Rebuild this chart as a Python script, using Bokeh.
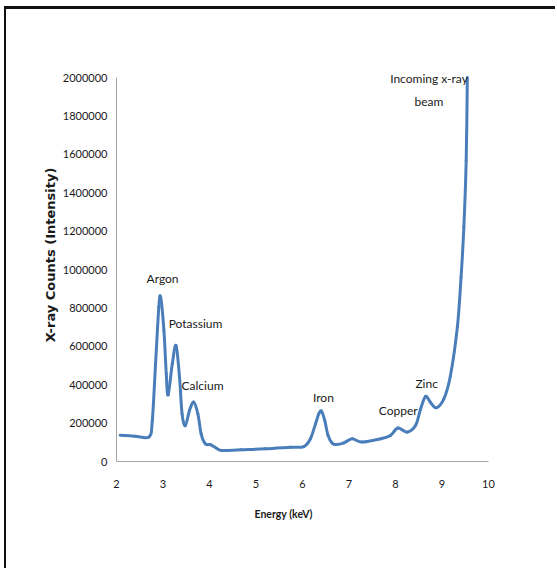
import numpy as np
from bokeh.plotting import figure
from bokeh.models import Range1d, FixedTicker, LabelSet, Title, ColumnDataSource
from bokeh.core.properties import value
from bokeh.embed import file_html
from bokeh.resources import INLINE

# ---- data ----
energy_kev = [2.08, 2.40, 2.70, 2.77, 2.84, 2.91, 2.95, 3.02, 3.07, 3.11, 3.20, 3.28,
              3.355, 3.41, 3.48, 3.57, 3.66, 3.75, 3.82, 3.91, 4.02, 4.15, 4.27, 4.67,
              5.20, 5.74, 6.03, 6.17, 6.28, 6.35, 6.41, 6.48, 6.55, 6.64, 6.73, 6.89,
              7.07, 7.28, 7.68, 7.89, 8.05, 8.25, 8.43, 8.54, 8.645, 8.75, 8.875, 9.04,
              9.18, 9.33, 9.41, 9.47, 9.52, 9.545]
xray_counts = [137000, 132000, 128000, 213000, 509000, 804000, 855000, 682000, 457000,
               347000, 509000, 604000, 439000, 248000, 187000, 266000, 309000, 248000,
               144000, 92000, 88000, 69000, 57000, 61000, 66000, 74000, 78000, 118000,
               196000, 248000, 262000, 213000, 135000, 95000, 88000, 97000, 118000,
               101000, 118000, 135000, 174000, 153000, 187000, 274000, 339000, 309000,
               280000, 326000, 445000, 700000, 960000, 1220000, 1568000, 2000000]

x_ticks = [2, 3, 4, 5, 6, 7, 8, 9, 10]
x_tick_labels = ["2", "3", "4", "5", "6", "7", "8", "9", "10"]
y_ticks = [0, 200000, 400000, 600000, 800000, 1000000, 1200000, 1400000, 1600000,
           1800000, 2000000]
y_tick_labels = ["0", "200000", "400000", "600000", "800000", "1000000", "1200000",
                 "1400000", "1600000", "1800000", "2000000"]

peak_names = ["Argon", "Potassium", "Calcium", "Iron", "Copper", "Zinc",
              "Incoming x-ray", "beam"]
peak_label_x = [2.99, 3.70, 3.85, 6.45, 8.06, 8.67, 8.72, 8.72]
peak_label_y = [953000, 719000, 396000, 333000, 266000, 406000, 1995000, 1875000]

x_title = "Energy (keV)"
y_title = "X-ray Counts (Intensity)"

# ---- layout ----
W, H = 551, 562
FRAME_W, FRAME_H, AXIS_H = 372, 413, 384
Y_MAX = 2000000
Y_END = Y_MAX * FRAME_H / AXIS_H      # headroom so the top label is not clipped

p = figure(width=W, height=H, x_range=Range1d(2, 10), y_range=Range1d(0, Y_END),
           output_backend="svg", toolbar_location=None,
           min_border_left=110, min_border_right=W - 110 - FRAME_W,
           min_border_top=39, min_border_bottom=H - 39 - FRAME_H)
p.styles = {"border-top": "3px solid #111111", "border-left": "2px solid #111111",
            "margin-left": "4px", "margin-top": "6px"}
p.grid.visible = False
p.outline_line_color = None
p.background_fill_color = "white"
p.border_fill_color = "white"

# smoothed line (Catmull-Rom bezier segments through the data points, like Excel)
xs = np.array(energy_kev, dtype=float)
ys = np.array(xray_counts, dtype=float)
xp = np.concatenate([[xs[0]], xs, [xs[-1]]])
yp = np.concatenate([[ys[0]], ys, [ys[-1]]])
n = len(xs)
x0 = xp[1:n]; y0 = yp[1:n]
x1 = xp[2:n + 1]; y1 = yp[2:n + 1]
cx0 = x0 + (xp[2:n + 1] - xp[0:n - 1]) / 6.0
cy0 = y0 + (yp[2:n + 1] - yp[0:n - 1]) / 6.0
cx1 = x1 - (xp[3:n + 2] - xp[1:n]) / 6.0
cy1 = y1 - (yp[3:n + 2] - yp[1:n]) / 6.0
p.bezier(x0=x0, y0=y0, x1=x1, y1=y1, cx0=cx0, cy0=cy0, cx1=cx1, cy1=cy1,
         line_color="#4a7ebb", line_width=3, line_cap="round")

FONT = "Lato"
# axes
for ax in (p.xaxis[0], p.yaxis[0]):
    ax.major_tick_line_color = None
    ax.minor_tick_line_color = None
    ax.major_tick_out = 0
    ax.major_tick_in = 0
    ax.axis_line_color = "#a6a6a6"
    ax.axis_line_width = 1
    ax.major_label_text_font = FONT
    ax.major_label_text_font_size = "11px"
    ax.major_label_text_color = "#1a1a1a"

p.xaxis.ticker = FixedTicker(ticks=x_ticks)
p.xaxis.major_label_overrides = dict(zip(x_ticks, x_tick_labels))
p.xaxis.major_label_standoff = 18
p.yaxis.ticker = FixedTicker(ticks=y_ticks)
p.yaxis.major_label_overrides = dict(zip(y_ticks, y_tick_labels))
p.yaxis.major_label_standoff = 9
p.yaxis.bounds = (0, Y_MAX)

p.yaxis.axis_label = y_title
p.yaxis.axis_label_text_font = "DejaVu Sans"
p.yaxis.axis_label_text_font_style = "bold"
p.yaxis.axis_label_text_font_size = "13px"
p.yaxis.axis_label_text_color = "#1a1a1a"
p.yaxis.axis_label_standoff = 2

p.add_layout(Title(text=x_title, align="left", offset=138, standoff=31,
                   text_font=FONT, text_font_style="bold", text_font_size="10.5px",
                   text_color="#1a1a1a"), "below")

src = ColumnDataSource(dict(x=peak_label_x, y=peak_label_y, text=peak_names))
p.add_layout(LabelSet(x="x", y="y", text="text", source=src, text_align="center",
                      text_baseline="middle", text_font=value(FONT),
                      text_font_size=value("12px"), text_color="#1a1a1a"))

open("out.html", "w").write(file_html(p, INLINE))
